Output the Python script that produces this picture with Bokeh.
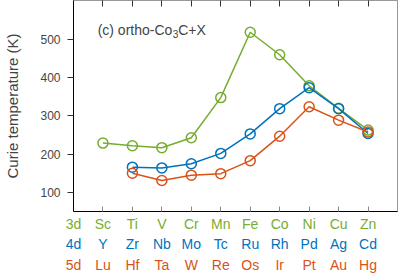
from bokeh.plotting import figure
from bokeh.models import LinearAxis, FixedTicker, Label, Range1d, CustomJSTickFormatter
from bokeh.embed import file_html
from bokeh.resources import INLINE

# ---- data ----
pos = list(range(10))
el3 = ["Sc", "Ti", "V", "Cr", "Mn", "Fe", "Co", "Ni", "Cu", "Zn"]
el4 = ["Y", "Zr", "Nb", "Mo", "Tc", "Ru", "Rh", "Pd", "Ag", "Cd"]
el5 = ["Lu", "Hf", "Ta", "W", "Re", "Os", "Ir", "Pt", "Au", "Hg"]
row_names = ["3d", "4d", "5d"]
tc3 = [229, 222, 217, 243, 348, 519, 460, 379, 320, 263]
pos45 = pos[1:]
tc4 = [166, 164, 175, 202, 253, 319, 374, 319, 254]
tc5 = [150, 131, 145, 149, 183, 247, 324, 289, 258]
y_ticks = [100, 200, 300, 400, 500]

GREEN = "#77AC30"
BLUE = "#0072BD"
ORANGE = "#D95319"
COLORS = [GREEN, BLUE, ORANGE]
FONT = "Liberation Sans"

p = figure(width=398, height=275, x_range=Range1d(-1, 10), y_range=Range1d(50, 602),
           output_backend="svg", toolbar_location=None,
           x_axis_location=None, y_axis_location=None,
           min_border_left=73, min_border_right=1, min_border_top=0, min_border_bottom=0)
p.grid.visible = False
p.outline_line_color = "#999999"
p.outline_line_width = 1

# y axis
yax = LinearAxis(ticker=FixedTicker(ticks=y_ticks), major_tick_in=0, major_tick_out=6,
                 minor_tick_line_color=None, axis_line_color="black",
                 major_tick_line_color="#333333",
                 major_label_text_font=FONT, major_label_text_font_size="12px",
                 major_label_standoff=7,
                 axis_label="Curie temperature (K)", axis_label_text_font=FONT,
                 axis_label_text_font_size="15px", axis_label_text_font_style="normal",
                 axis_label_standoff=16)
p.add_layout(yax, "left")

# top axis (ticks only)
tax = LinearAxis(ticker=FixedTicker(ticks=pos), major_tick_in=6, major_tick_out=0,
                 minor_tick_line_color=None, axis_line_color="#999999",
                 major_tick_line_color="#333333",
                 formatter=CustomJSTickFormatter(code="return ''"),
                 major_label_standoff=0)
p.add_layout(tax, "above")

# bottom axes: element rows, each led by its row name (3d / 4d / 5d)
rows = [(el3, 4), (el4, 1), (el5, 2)]
for k, ((els, standoff), name, col) in enumerate(zip(rows, row_names, COLORS)):
    overrides = {-1: name}
    overrides.update({i: els[i] for i in pos})
    ax = LinearAxis(ticker=FixedTicker(ticks=[-1] + pos),
                    major_label_overrides=overrides,
                    minor_tick_line_color=None,
                    major_label_text_font=FONT, major_label_text_font_size="14px",
                    major_label_text_color=col, major_label_standoff=standoff)
    if k == 0:
        ax.major_tick_in = 5
        ax.major_tick_out = 0
        ax.major_tick_line_color = "#888888"
        ax.axis_line_color = "black"
    else:
        ax.major_tick_in = 0
        ax.major_tick_out = 0
        ax.major_tick_line_color = None
        ax.axis_line_color = None
    p.add_layout(ax, "below")

# series
for xs, ys, col in [(pos, tc3, GREEN), (pos45, tc4, BLUE), (pos45, tc5, ORANGE)]:
    p.line(xs, ys, line_color=col, line_width=1.5)
    p.scatter(xs, ys, marker="circle", size=10, fill_color=None, line_color=col, line_width=1.5)

# annotation
ax0, ay0 = -0.18, 525
p.add_layout(Label(x=ax0, y=ay0, text="(c) ortho-Co", text_font=FONT, text_font_size="14px",
                   text_baseline="alphabetic", text_align="left"))
p.add_layout(Label(x=ax0, y=ay0, x_offset=75, y_offset=-4, text="3", text_font=FONT,
                   text_font_size="10px", text_baseline="alphabetic", text_align="left"))
p.add_layout(Label(x=ax0, y=ay0, x_offset=80.5, text="C+X", text_font=FONT,
                   text_font_size="14px", text_baseline="alphabetic", text_align="left"))

open("out.html", "w").write(file_html(p, INLINE))
